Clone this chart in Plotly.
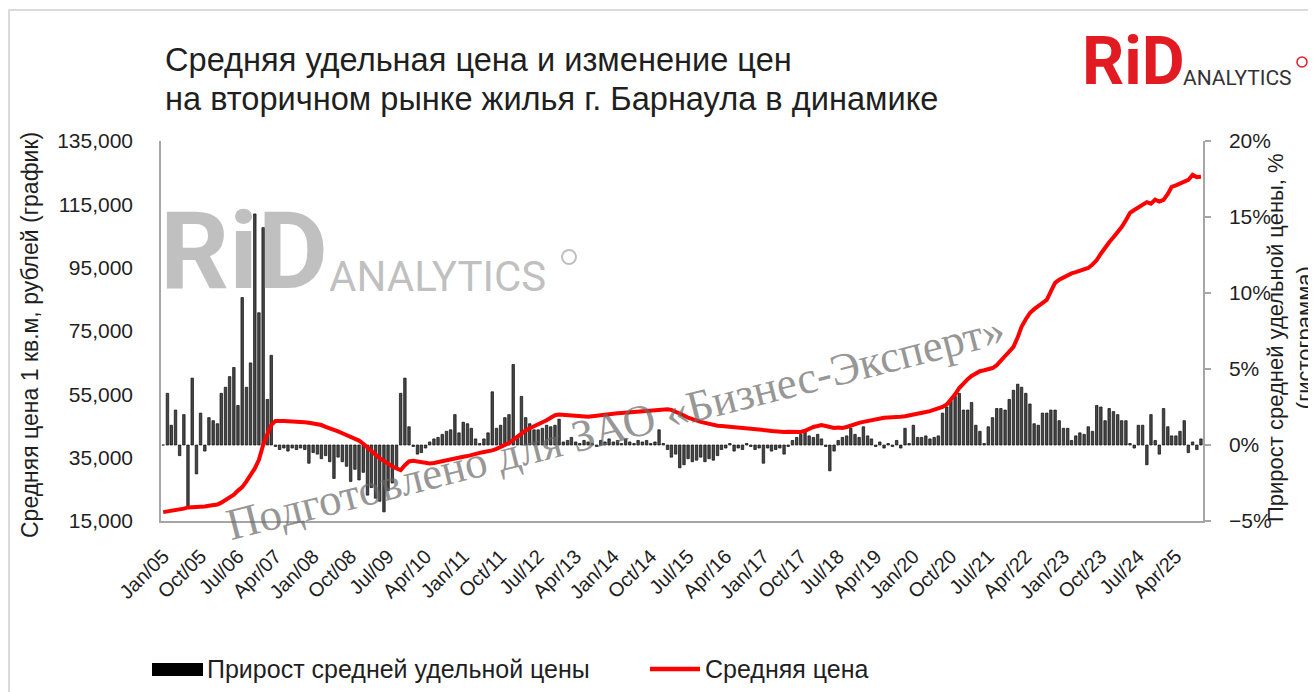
import pandas as pd
import plotly.graph_objects as go

# ---------------- data ----------------
months = pd.date_range("2005-01-01", periods=250, freq="MS")

avg_price = [
    17800, 18000, 18100, 18400, 18600, 18900, 19300, 19300, 19500, 19400, 19600, 19800,   # 2005
    20000, 20200, 20800, 21600, 22400, 23300, 24600, 25700, 27500, 29500, 31600, 34300,   # 2006
    39000, 42500, 45300, 46600, 46700, 46600, 46500, 46500, 46400, 46300, 46200, 46000,   # 2007
    45800, 45600, 45300, 44700, 44300, 43900, 43300, 42700, 42100, 41500, 41000, 40400,   # 2008
    39400, 38200, 37000, 35800, 34800, 34000, 33000, 32200, 31600, 31100, 32600, 33800,   # 2009
    34000, 33800, 33500, 33400, 33200, 33300, 33600, 34000, 34300, 34600, 34900, 35100,   # 2010
    35300, 35500, 35900, 36200, 36500, 36800, 37000, 37300, 37800, 38400, 39000, 39600,   # 2011
    40600, 41600, 42800, 43600, 44300, 44900, 45400, 46000, 46800, 47600, 48400, 48600,   # 2012
    48500, 48300, 48200, 48300, 48200, 48000, 47900, 48100, 48300, 48500, 48600, 48700,   # 2013
    48900, 49000, 49100, 49200, 49300, 49500, 49600, 49800, 49900, 50000, 50100, 50100,   # 2014
    50200, 50300, 50100, 49600, 49000, 48300, 47600, 47100, 46700, 46300, 46000, 45600,   # 2015
    45300, 45100, 45000, 44900, 44800, 44700, 44500, 44400, 44200, 44000, 43900, 43800,   # 2016
    43700, 43600, 43400, 43200, 43100, 43100, 43200, 43100, 43000, 43100, 43500, 44200,   # 2017
    44700, 45000, 45300, 45000, 44600, 44400, 44500, 44400, 44700, 45200, 45600, 46000,   # 2018
    46300, 46600, 46900, 47200, 47500, 47600, 47700, 47700, 47800, 47900, 48100, 48300,   # 2019
    48500, 48800, 49100, 49400, 49700, 50100, 50500, 51000, 51800, 53200, 55000, 57000,   # 2020
    58600, 59800, 60800, 61700, 62300, 62600, 63000, 63300, 64200, 65800, 67100, 68500,   # 2021
    70000, 73000, 76300, 78700, 80700, 81900, 82800, 83800, 84800, 87500, 90200, 91200,   # 2022
    92000, 92700, 93200, 93600, 94000, 94400, 94900, 96000, 97400, 99400, 101500, 103000, # 2023
    104600, 106200, 107800, 110000, 112300, 113200, 114000, 114800, 115700, 115200, 116500, 115900,  # 2024
    116400, 118300, 120500, 121000, 121600, 122200, 122700, 124300, 123600, 123700,       # 2025
]

price_growth_pct = [
    0.0, 3.4, 1.3, 2.3, -0.7, 2.0, -4.0, 4.4, -1.9, 2.1, -0.4, 1.8,          # 2005
    1.6, 1.4, 3.4, 3.8, 4.5, 5.1, 2.6, 9.7, 3.8, 5.4, 15.2, 8.7,             # 2006
    14.3, 3.0, 5.9, -0.1, -0.3, -0.2, -0.4, -0.2, -0.3, -0.2, -0.3, -1.2,    # 2007
    -0.5, -0.6, -0.9, -0.7, -1.1, -2.2, -0.8, -1.1, -1.4, -2.4, -1.6, -2.3,  # 2008
    -1.8, -3.3, -2.8, -3.5, -3.7, -4.4, -3.0, -2.5, -1.5, 3.4, 4.4, 1.2,     # 2009
    -0.1, -0.6, -0.5, -0.2, 0.2, 0.4, 0.5, 0.7, 0.9, 1.0, 2.0, 0.8,          # 2010
    1.5, 1.4, 1.1, 0.4, 0.1, 0.4, 0.8, 3.5, 1.1, 1.3, 1.8, 2.0,              # 2011
    5.3, 0.6, 3.2, 1.8, 1.4, 1.0, 1.0, 1.1, 1.3, 1.2, 1.3, 1.7,              # 2012
    0.2, 0.3, 0.5, 0.2, 0.1, 0.3, 0.2, 0.1, -0.1, 0.3, 0.2, 0.4,             # 2013
    0.2, 0.3, 0.1, 0.4, 0.2, 0.1, 0.3, 0.2, 0.3, 0.1, 0.2, 1.0,              # 2014
    0.1, -0.3, -0.8, -0.6, -1.5, -1.3, -0.9, -1.1, -1.0, -0.8, -1.1, -0.9,   # 2015
    -1.0, -0.7, -0.3, -0.2, 0.1, -0.4, -0.2, -0.3, 0.1, -0.1, -0.3, -0.2,    # 2016
    -1.2, -0.2, -0.4, -0.3, -0.2, -0.6, -0.1, 0.3, 0.5, 0.7, 0.9, 0.6,       # 2017
    0.5, 0.7, 0.4, -0.1, -1.7, -0.4, 0.3, 0.5, 0.6, 1.1, 0.7, 0.5,           # 2018
    1.2, 0.6, 0.4, -0.1, 0.2, -0.2, 0.1, -0.1, 0.3, -0.2, 1.1, 0.1,          # 2019
    1.3, 0.5, 0.5, 0.6, 0.4, 0.5, 0.6, 2.1, 2.5, 2.9, 3.2, 3.4,              # 2020
    2.3, 2.3, 2.8, 1.3, 0.9, 0.1, 1.2, 1.8, 2.4, 2.4, 2.3, 3.0,              # 2021
    3.6, 4.0, 3.8, 3.4, 2.7, 1.4, 1.3, 2.1, 2.1, 2.3, 2.3, 1.6,              # 2022
    1.1, 1.1, 0.3, 0.6, 0.8, 0.7, 1.2, 0.9, 2.6, 2.5, 1.6, 2.4,              # 2023
    2.2, 2.0, 1.6, 1.6, 0.1, -0.2, 1.3, 1.3, -1.3, 2.0, 0.3, -0.6,           # 2024
    2.4, 1.2, 0.6, 0.6, 0.9, 1.6, -0.5, 0.2, -0.3, 0.4,                      # 2025
]

series_names = ["Прирост средней удельной цены", "Средняя цена"]
title_lines = ["Средняя удельная цена и изменение цен",
               "на вторичном рынке жилья г. Барнаула в динамике"]
left_axis_title = "Средняя цена 1 кв.м, рублей (график)"
right_axis_title = "Прирост средней удельной цены, %<br>(гистограмма)"
watermark_text = "Подготовлено для ЗАО «Бизнес-Эксперт»"

# ---------------- layout helpers ----------------
# the page body adds an 8px offset, so the figure is drawn 8px smaller
OFF = 8
W, H = 1316 - OFF, 692 - OFF
L, R, T, B = 161, 1203, 141, 521     # plot area in screen pixels


def px(x):
    return (x - L) / (R - L)


def py(y):
    return (B - y) / (B - T)


FONT = "Liberation Sans, Arial, sans-serif"
TXT = "#1f1f1f"
AXC = "#a6a6a6"

fig = go.Figure()
fig.add_trace(go.Bar(
    x=months, y=price_growth_pct, name=series_names[0], yaxis="y",
    marker=dict(color="#474747", line=dict(color="#0d0d0d", width=0.7)),
    showlegend=False,
))
fig.add_trace(go.Scatter(
    x=months, y=avg_price, name=series_names[1], yaxis="y2", mode="lines",
    line=dict(color="#ff0000", width=4),
    showlegend=False,
))

annotations = [
    dict(text=title_lines[0], x=px(163), y=py(60), xanchor="left", yanchor="middle",
         font=dict(family=FONT, size=32.6, color=TXT)),
    dict(text=title_lines[1], x=px(163), y=py(98), xanchor="left", yanchor="middle",
         font=dict(family=FONT, size=32.6, color=TXT)),
    dict(text=left_axis_title, x=px(30), y=py(335), textangle=-90,
         xanchor="center", yanchor="middle", font=dict(family=FONT, size=23, color=TXT)),
    dict(text=right_axis_title, x=px(1290), y=py(338), textangle=-90,
         xanchor="center", yanchor="middle", font=dict(family=FONT, size=22, color=TXT)),
    # legend texts
    dict(text=series_names[0], x=px(205), y=py(669), xanchor="left", yanchor="middle",
         font=dict(family=FONT, size=25, color=TXT)),
    dict(text=series_names[1], x=px(703), y=py(669), xanchor="left", yanchor="middle",
         font=dict(family=FONT, size=25, color=TXT)),
    # red logo
    dict(text="RiD", x=px(1080), y=py(62), xanchor="left", yanchor="middle",
         font=dict(family="Roboto, Arial", size=66, color="#e21b23", weight="bold")),
    dict(text="ANALYTICS", x=px(1181), y=py(78), xanchor="left", yanchor="middle",
         font=dict(family="Roboto, Arial", size=21, color="#333333")),
    # grey watermark logo
    dict(text="RiD", x=px(158), y=py(251), xanchor="left", yanchor="middle",
         font=dict(family="Roboto, Arial", size=108, color="rgba(150,150,150,0.6)", weight="bold")),
    dict(text="ANALYTICS", x=px(327), y=py(276), xanchor="left", yanchor="middle",
         font=dict(family="Roboto, Arial", size=42, color="rgba(150,150,150,0.6)")),
    # rotated watermark text
    dict(text=watermark_text, x=px(615), y=py(427), textangle=-14.3,
         xanchor="center", yanchor="middle",
         font=dict(family="Liberation Serif, Times New Roman, serif", size=45,
                   color="rgba(105,105,105,0.7)")),
]
for a in annotations:
    a.update(xref="paper", yref="paper", showarrow=False)

shapes = [
    # outer frame
    dict(type="rect", x0=px(9), x1=px(1340), y0=py(10), y1=py(720),
         line=dict(color="#cfcfcf", width=1.5), fillcolor="rgba(0,0,0,0)"),
    # legend keys
    dict(type="rect", x0=px(152), x1=px(203), y0=py(676), y1=py(663),
         line=dict(width=0), fillcolor="#000000"),
    dict(type="line", x0=px(650), x1=px(700), y0=py(669), y1=py(669),
         line=dict(color="#ff0000", width=4.5)),
    # logo rings
    dict(type="circle", x0=px(1297), x1=px(1307), y0=py(67), y1=py(57),
         line=dict(color="#e21b23", width=1.5)),
    dict(type="circle", x0=px(562), x1=px(576), y0=py(264), y1=py(250),
         line=dict(color="rgba(150,150,150,0.6)", width=2)),
]
for s in shapes:
    s.update(xref="paper", yref="paper")

fig.update_layout(
    width=W, height=H, autosize=False,
    margin=dict(l=L - OFF, r=W - (R - OFF), t=T - OFF, b=H - (B - OFF), pad=0),
    paper_bgcolor="white", plot_bgcolor="white",
    bargap=0.35,
    showlegend=False,
    annotations=annotations, shapes=shapes,
    xaxis=dict(
        type="date", range=["2004-12-16", "2025-10-16"],
        tick0="2005-01-01", dtick="M9", tickformat="%b/%y", tickangle=-45,
        showline=True, linecolor=AXC, linewidth=1.5, ticks="",
        showgrid=False, zeroline=False, ticklabelstandoff=14,
        tickfont=dict(family=FONT, size=20, color=TXT),
    ),
    yaxis=dict(
        side="right", range=[-5, 20], tick0=0, dtick=5, ticksuffix="%",
        showline=True, linecolor=AXC, linewidth=1.5,
        ticks="outside", ticklen=6, tickcolor=AXC, tickwidth=1.5,
        showgrid=False, zeroline=False, ticklabelstandoff=14,
        tickfont=dict(family=FONT, size=21, color=TXT),
    ),
    yaxis2=dict(
        overlaying="y", side="left", range=[15000, 135000], tick0=15000, dtick=20000,
        tickformat=",d", showline=True, linecolor=AXC, linewidth=1.5, ticks="",
        showgrid=False, zeroline=False, ticklabelstandoff=22,
        tickfont=dict(family=FONT, size=21, color=TXT),
    ),
)

fig.write_html("out.html")
